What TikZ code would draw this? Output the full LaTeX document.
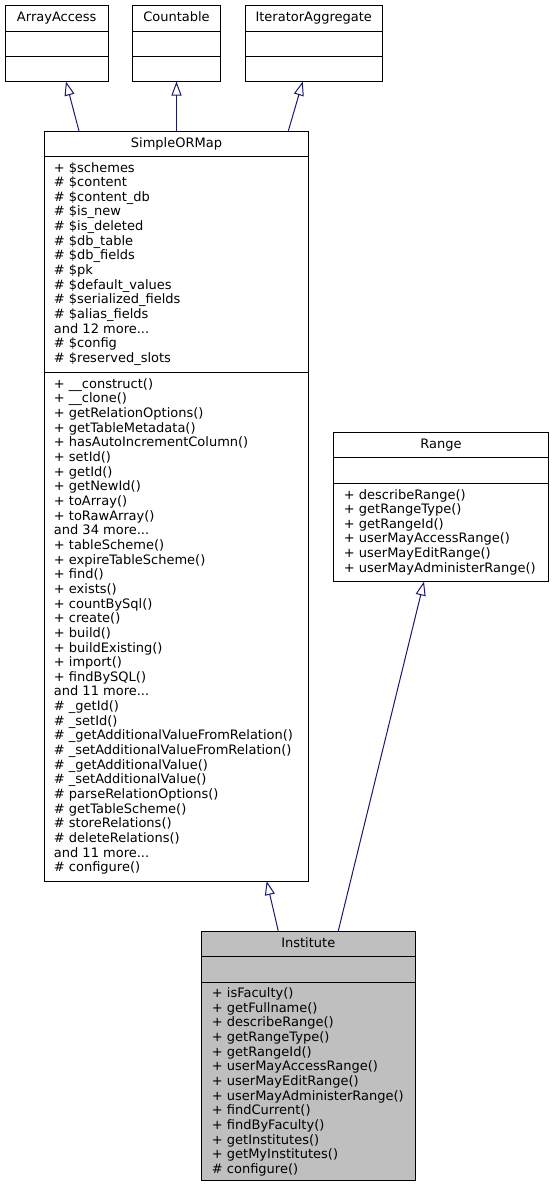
\documentclass[tikz,border=0pt]{standalone}
\usepackage{fontspec}
\setmainfont{DejaVu Sans}
\usetikzlibrary{arrows.meta}
\definecolor{edgeblue}{RGB}{25,25,112}
\definecolor{hlgray}{RGB}{191,191,191}
\newcommand\moredots{...}
\begin{document}
\begin{tikzpicture}[x=1pt,y=-1pt,
  box/.style={draw=black, line width=1pt, rectangle, inner sep=0pt, outer sep=0pt, anchor=north west},
  sepline/.style={draw=black, line width=1pt},
  title/.style={anchor=base, inner sep=0pt, font=\fontsize{13}{14.65}\selectfont},
  txt/.style={anchor=base west, inner sep=0pt, font=\fontsize{13}{14.65}\selectfont},
  inh/.style={draw=edgeblue, line width=1pt, -{Triangle[open, length=14pt, width=10pt]}}]
\useasboundingbox (0,0) rectangle (553,1189);

% ---- ArrayAccess
\node[box, minimum width=102.5pt, minimum height=76pt] (aa) at (5.5,5.5) {};
\draw[sepline] (5.5,31.5) -- (108,31.5);
\draw[sepline] (5.5,56.5) -- (108,56.5);
\node[title] (aa-t) at (56.75,21.5) {ArrayAccess};

% ---- Countable
\node[box, minimum width=88pt, minimum height=76pt] (cnt) at (132.5,5.5) {};
\draw[sepline] (132.5,31.5) -- (220.5,31.5);
\draw[sepline] (132.5,56.5) -- (220.5,56.5);
\node[title] (cnt-t) at (176.5,21.5) {Countable};

% ---- IteratorAggregate
\node[box, minimum width=137.5pt, minimum height=76pt] (ia) at (245,5.5) {};
\draw[sepline] (245,31.5) -- (382.5,31.5);
\draw[sepline] (245,56.5) -- (382.5,56.5);
\node[title] (ia-t) at (313.75,21.5) {IteratorAggregate};

% ---- SimpleORMap
\node[box, minimum width=264pt, minimum height=750pt] (som) at (44.5,131) {};
\draw[sepline] (44.5,156) -- (308.5,156);
\draw[sepline] (44.5,372) -- (308.5,372);
\node[title] (som-t) at (176.5,147) {SimpleORMap};
\foreach \t [count=\i] in {+ \$schemes, \# \$content, \# \$content\_db, \# \$is\_new,
  \# \$is\_deleted, \# \$db\_table, \# \$db\_fields, \# \$pk, \# \$default\_values,
  \# \$serialized\_fields, \# \$alias\_fields, and 12 more\moredots, \# \$config, \# \$reserved\_slots}
  \node[txt, name=som-a-\i] at (53.7,{172+(\i-1)*14.65}) {\t};
\foreach \t [count=\i] in {+ \_\_construct(), + \_\_clone(), + getRelationOptions(),
  + getTableMetadata(), + hasAutoIncrementColumn(), + setId(), + getId(), + getNewId(),
  + toArray(), + toRawArray(), and 34 more\moredots, + tableScheme(), + expireTableScheme(),
  + find(), + exists(), + countBySql(), + create(), + build(), + buildExisting(),
  + import(), + findBySQL(), and 11 more\moredots, \# \_getId(), \# \_setId(),
  \# \_getAdditionalValueFromRelation(), \# \_setAdditionalValueFromRelation(),
  \# \_getAdditionalValue(), \# \_setAdditionalValue(), \# parseRelationOptions(),
  \# getTableScheme(), \# storeRelations(), \# deleteRelations(), and 11 more\moredots,
  \# configure()}
  \node[txt, name=som-m-\i] at (53.7,{388.3+(\i-1)*14.65}) {\t};

% ---- Range
\node[box, minimum width=215pt, minimum height=149pt] (rng) at (333.5,432.5) {};
\draw[sepline] (333.5,457.5) -- (548.5,457.5);
\draw[sepline] (333.5,483) -- (548.5,483);
\node[title] (rng-t) at (441,448.5) {Range};
\foreach \t [count=\i] in {+ describeRange(), + getRangeType(), + getRangeId(),
  + userMayAccessRange(), + userMayEditRange(), + userMayAdministerRange()}
  \node[txt, name=rng-m-\i] at (343.7,{499+(\i-1)*14.65}) {\t};

% ---- Institute
\node[box, fill=hlgray, minimum width=214.5pt, minimum height=249.5pt] (inst) at (201,931) {};
\draw[sepline] (201,956.5) -- (415.5,956.5);
\draw[sepline] (201,982) -- (415.5,982);
\node[title] (inst-t) at (308.25,947) {Institute};
\foreach \t [count=\i] in {+ isFaculty(), + getFullname(), + describeRange(),
  + getRangeType(), + getRangeId(), + userMayAccessRange(), + userMayEditRange(),
  + userMayAdministerRange(), + findCurrent(), + findByFaculty(), + getInstitutes(),
  + getMyInstitutes(), \# configure()}
  \node[txt, name=inst-m-\i] at (211.7,{997.6+(\i-1)*14.65}) {\t};

% ---- inheritance edges
\draw[inh] ([xshift=-97.5pt]som.north) -- ([xshift=9.2pt]aa.south);
\draw[inh] (som.north) -- (cnt.south);
\draw[inh] ([xshift=111.8pt]som.north) -- ([xshift=-11pt]ia.south);
\draw[inh] ([xshift=-30pt]inst.north) -- ([xshift=90.2pt]som.south);
\draw[inh] ([xshift=30pt]inst.north) -- ([xshift=-17pt]rng.south);
\end{tikzpicture}
\end{document}
